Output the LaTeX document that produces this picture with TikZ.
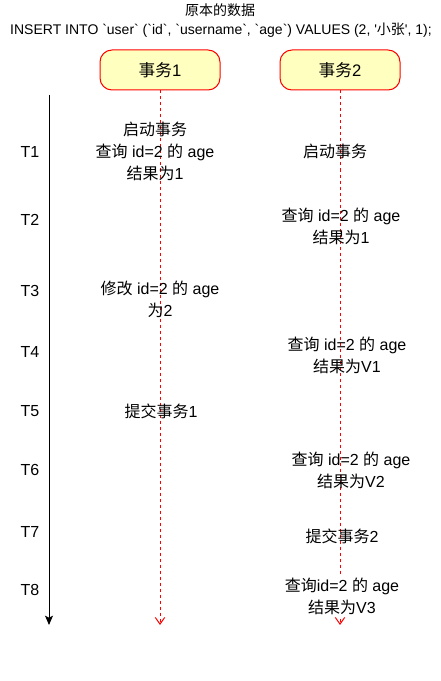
\documentclass[tikz,border=0pt]{standalone}
\usepackage{fontspec}
\setmainfont{Liberation Sans}
\newfontfamily\cjk{Noto Sans CJK SC}
\newfontfamily\sqlf{Liberation Sans}
\usetikzlibrary{arrows.meta}
\newcommand\zh[1]{{\cjk #1}}
\definecolor{boxyellow}{HTML}{FFFFC0}
\begin{document}
\begin{tikzpicture}[x=0.75pt,y=-0.75pt,line width=0.75pt,
  txt/.style={font=\fontsize{12}{16.5}\selectfont, align=center, inner sep=0pt},
  tlabel/.style={font=\fontsize{12}{14}\selectfont, inner sep=0pt},
  hdr/.style={font=\fontsize{10.5}{12}\selectfont, inner sep=0pt},
  txbox/.style={draw=red, fill=boxyellow, rounded corners=9pt, minimum width=90pt, minimum height=30pt, inner sep=0pt, font=\fontsize{12.5}{15}\selectfont},
  life/.style={red, dash pattern=on 2.25pt off 2.25pt, -{Straight Barb[length=5pt,width=7pt]}},
  timeline/.style={black, -{Stealth[length=7pt,width=6pt,inset=1.5pt]}}
]
\useasboundingbox (0,0) rectangle (441,681);
\fill[white] (0,0) rectangle (441,681);

\node[hdr] (title) at (220,10) {\zh{原本的数据}};
\node[hdr] (sql) at (221,30) {\sqlf INSERT INTO `user` (`id`, `username`, `age`) VALUES (2, '\zh{小张}', 1);};

\node[txbox] (tx1) at (160,70) {\zh{事务}1};
\node[txbox] (tx2) at (340,70) {\zh{事务}2};

\coordinate (e1) at (160,625);
\coordinate (e2) at (340,625);
\coordinate (ts) at (49,95);
\coordinate (te) at (49,625);

\draw[life] (tx1.south) -- (e1);
\draw[life] (tx2.south) -- (e2);
\draw[timeline] (ts) -- (te);

\node[tlabel] (t1) at (30,152) {T1};
\node[tlabel] (t2) at (30,220) {T2};
\node[tlabel] (t3) at (30,291) {T3};
\node[tlabel] (t4) at (30,352) {T4};
\node[tlabel] (t5) at (30,411) {T5};
\node[tlabel] (t6) at (30,470) {T6};
\node[tlabel] (t7) at (30,532) {T7};
\node[tlabel] (t8) at (30,590) {T8};

\node[txt] (a1) at (155,151) {\zh{启动事务}\\\zh{查询} id=2 \zh{的} age\\\zh{结果为}1};
\node[txt] (a3) at (160,299.5) {\zh{修改} id=2 \zh{的} age\\\zh{为}2};
\node[txt] (a5) at (161,411) {\zh{提交事务}1};

\node[txt] (b1) at (335,151) {\zh{启动事务}};
\node[txt] (b2) at (341,226) {\zh{查询} id=2 \zh{的} age\\\zh{结果为}1};
\node[txt] (b4) at (347,355.5) {\zh{查询} id=2 \zh{的} age\\\zh{结果为}V1};
\node[txt] (b6) at (351,470.5) {\zh{查询} id=2 \zh{的} age\\\zh{结果为}V2};
\node[txt] (b7) at (342,536) {\zh{提交事务}2};
\node[txt, fill=white, inner sep=1pt] (b8) at (342,596) {\zh{查询}id=2 \zh{的} age\\\zh{结果为}V3};
\end{tikzpicture}
\end{document}
